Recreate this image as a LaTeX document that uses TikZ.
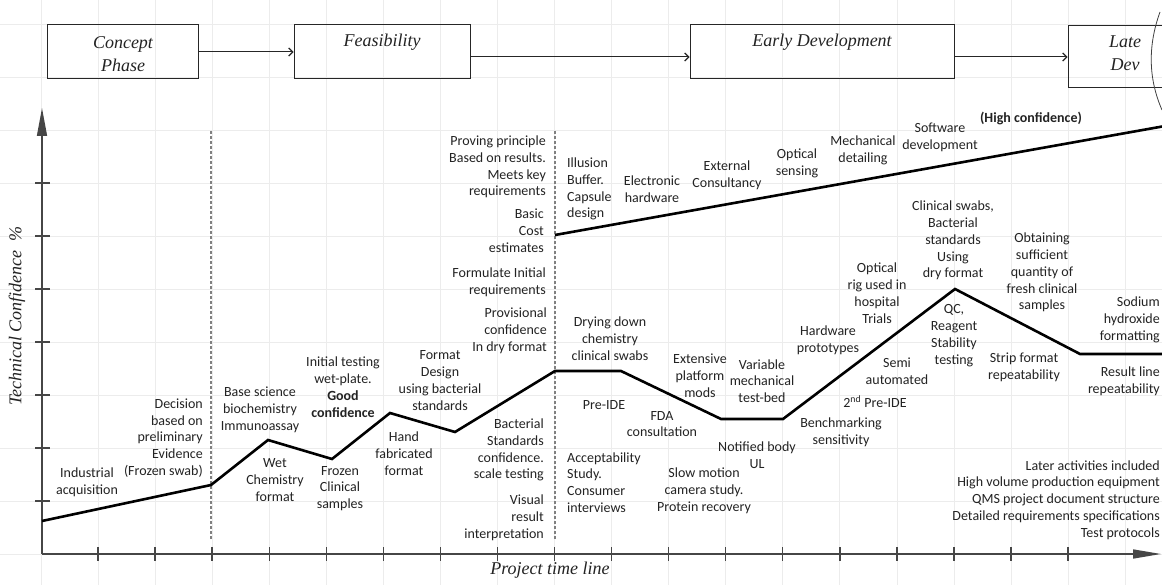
\documentclass[tikz,border=0pt]{standalone}
\usepackage{fontspec}
\setmainfont{Liberation Serif}
\newfontfamily\lblfont{Carlito}
\usetikzlibrary{arrows.meta}

\definecolor{txt}{RGB}{35,35,35}
\definecolor{gridc}{RGB}{236,236,236}
\definecolor{axisc}{RGB}{70,70,70}

\begin{document}
\begin{tikzpicture}[x=1pt,y=-1pt,
  lbl/.style={font=\lblfont\fontsize{14}{16.8}\selectfont, text=txt, inner sep=0pt},
  lc/.style={lbl, align=center},
  lr/.style={lbl, align=right, anchor=east},
  ll/.style={lbl, align=left, anchor=west},
  phase/.style={draw=black!85, line width=1pt, inner sep=0pt},
  phasetext/.style={font=\itshape\fontsize{18}{22.5}\selectfont, text=txt,
    align=center, inner sep=0pt},
  flow/.style={line width=1pt, draw=black!85,
    -{Straight Barb[length=4pt,width=8pt,line width=1.2pt]}},
  trend/.style={line width=2.6pt, line join=miter, black},
  axis/.style={line width=1.5pt, axisc},
  tick/.style={line width=1.4pt, axisc},
  divider/.style={line width=1.3pt, gray, dash pattern=on 3pt off 2pt},
  axislabel/.style={font=\itshape\fontsize{18}{22}\selectfont, text=txt, inner sep=0pt}
]
% canvas
\fill[white] (0,0) rectangle (1162,585);
\useasboundingbox (0,0) rectangle (1162,585);

% background grid
\foreach \i in {0,...,20}
  \draw[gridc, line width=0.8pt] (41+57.06*\i,0) -- (41+57.06*\i,585);
\foreach \j in {0,...,10}
  \draw[gridc, line width=0.8pt] (0,554-53*\j) -- (1162,554-53*\j);

% project phases
\node[phase, minimum width=151pt, minimum height=54pt] (concept) at (122.5,52) {};
\node[phase, minimum width=176pt, minimum height=54pt] (feas) at (382,52) {};
\node[phase, minimum width=264pt, minimum height=54pt] (early) at (822,52) {};
\node[phase, minimum width=117pt, minimum height=62pt] (late) at (1126.5,57) {};
\node[phasetext] (conceptname) at (123,54) {Concept\\Phase};
\node[phasetext] (feasname) at (382,42) {Feasibility};
\node[phasetext] (earlyname) at (822,42) {Early Development};
\node[phasetext] (latename) at (1125,53) {Late\\Dev};
\draw[line width=0.8pt, black!75] (1160,12) .. controls (1148,45) and (1148,78) .. (1162,110);

\draw[flow] (concept.east) -- (feas.west);
\draw[flow] ([yshift=-5pt]feas.east) -- ([yshift=-5pt]early.west);
\draw[flow] ([yshift=-5pt]early.east) -- (late.west);

% axes
\coordinate (origin) at (42,554);
\coordinate (ytop) at (42,108);
\coordinate (xend) at (1161,554);
\draw[axis, -{Triangle[length=28pt,width=10pt]}] (origin) -- (ytop);
\draw[axis, -{Triangle[length=28pt,width=9pt]}] (origin) -- (xend);
\foreach \j in {1,...,7}
  \draw[tick] (35,554-53*\j) -- (50,554-53*\j);
\foreach \i in {1,...,18}
  \draw[tick] (41+57.06*\i,547) -- (41+57.06*\i,561);

\node[axislabel, rotate=90] (ylab) at (17,316) {Technical Confidence\ \ \%};
\node[axislabel] (xlab) at (550,570) {Project time line};

% phase dividers
\draw[divider] (211,131) -- (211,540);
\draw[divider] (555,131) -- (555,540);

% confidence trends
\coordinate (t0) at (42,521);
\coordinate (t1) at (211,485);
\coordinate (t2) at (268,440);
\coordinate (t3) at (332,459);
\coordinate (t4) at (390,413);
\coordinate (t5) at (455,432);
\coordinate (t6) at (555,371);
\coordinate (t7) at (621,371);
\coordinate (t8) at (721,419);
\coordinate (t9) at (783,419);
\coordinate (t10) at (955,289);
\coordinate (t11) at (1080,354);
\coordinate (t12) at (1165,354);
\draw[trend] (t0) -- (t1) -- (t2) -- (t3) -- (t4) -- (t5) -- (t6) -- (t7)
  -- (t8) -- (t9) -- (t10) -- (t11) -- (t12);
\coordinate (u0) at (555,235);
\coordinate (u1) at (1165,126);
\draw[trend] (u0) -- (u1);

% concept phase notes
\node[lc] (indacq) at (87,482.5) {Industrial\\acquisition};
\node[lr] (decision) at (203,438) {Decision\\based on\\preliminary\\Evidence\\(Frozen swab)};

% feasibility notes
\node[lc] (basesci) at (260,410) {Base science\\biochemistry\\Immunoassay};
\node[lc] (wet) at (275,480) {Wet\\Chemistry\\format};
\node[lc] (initial) at (343,387) {Initial testing\\wet-plate.\\\textbf{Good}\\\textbf{confidence}};
\node[lc] (frozen) at (340,488.5) {Frozen\\Clinical\\samples};
\node[lc] (hand) at (404,453.5) {Hand\\fabricated\\format};
\node[lc] (formatd) at (440,380.5) {Format\\Design\\using bacterial\\standards};
\node[lr] (proving) at (546,167) {Proving principle\\Based on results.\\Meets key\\requirements};
\node[lr] (cost) at (544,231) {Basic\\Cost\\estimates};
\node[lr] (formulate) at (546,282.5) {Formulate Initial\\requirements};
\node[lr] (provis) at (547,331) {Provisional\\confidence\\In dry format};
\node[lr] (bact) at (544,450) {Bacterial\\Standards\\confidence.\\scale testing};
\node[lr] (visual) at (544,517.5) {Visual\\result\\interpretation};

% development notes, upper trend
\node[ll] (illusion) at (567,189) {Illusion\\Buffer.\\Capsule\\design};
\node[lc] (elec) at (652,189.5) {Electronic\\hardware};
\node[lc] (ext) at (727,175.5) {External\\Consultancy};
\node[lc] (optsens) at (797,163.5) {Optical\\sensing};
\node[lc] (mech) at (863,150) {Mechanical\\detailing};
\node[lc] (soft) at (940,137) {Software\\development};
\node[lbl, font=\lblfont\bfseries\fontsize{14}{16.8}\selectfont] (high) at (1031,118) {(High confidence)};

% development notes, lower trend
\node[lc] (drying) at (610,338.5) {Drying down\\chemistry\\clinical swabs};
\node[lc] (preide) at (604,405) {Pre-IDE};
\node[ll] (accept) at (567,482.5) {Acceptability\\Study.\\Consumer\\interviews};
\node[lc] (extensive) at (700,375.5) {Extensive\\platform\\mods};
\node[lc] (fda) at (662,424) {FDA\\consultation};
\node[lc] (slow) at (704,491) {Slow motion\\camera study.\\Protein recovery};
\node[lc] (variable) at (762,381) {Variable\\mechanical\\test-bed};
\node[lc] (notified) at (757,455.5) {Notified body\\UL};
\node[lc] (hardware) at (828,340) {Hardware\\prototypes};
\node[lc] (optrig) at (877,293) {Optical\\rig used in\\hospital\\Trials};
\node[lc] (semi) at (897,371.5) {Semi\\automated};
\node[lc] (pre2) at (875,402) {2\textsuperscript{nd} Pre-IDE};
\node[lc] (bench) at (841,432.5) {Benchmarking\\sensitivity};
\node[lc] (clinical) at (953,240.5) {Clinical swabs,\\Bacterial\\standards\\Using\\dry format};
\node[lc] (qc) at (954,335.5) {QC,\\Reagent\\Stability\\testing};
\node[lc] (obtain) at (1042,272.5) {Obtaining\\sufficient\\quantity of\\fresh clinical\\samples};
\node[lc] (strip) at (1024,367) {Strip format\\repeatability};
\node[lr] (sodium) at (1160,320) {Sodium\\hydroxide\\formatting};
\node[lr] (resline) at (1160,381.5) {Result line\\repeatability};
\node[lr] (later) at (1160,500) {Later activities included\\High volume production equipment\\QMS project document structure\\Detailed requirements specifications\\Test protocols};
\end{tikzpicture}
\end{document}
